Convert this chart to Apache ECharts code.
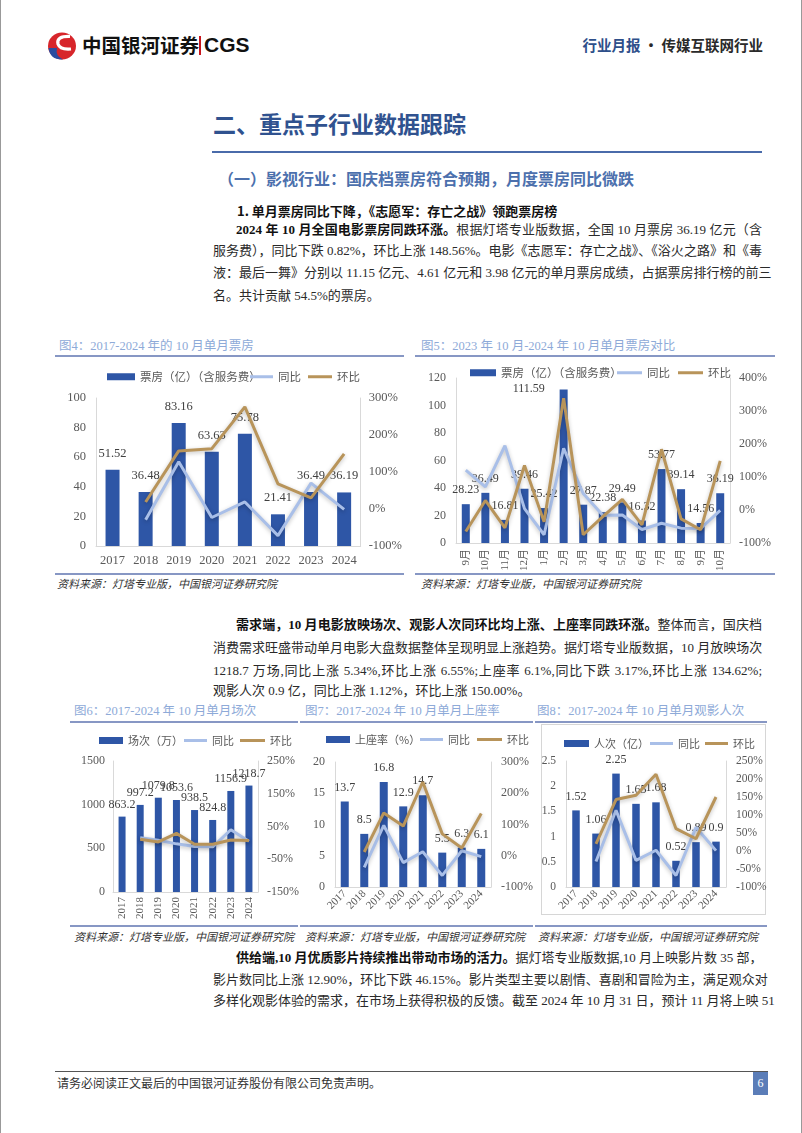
<!DOCTYPE html>
<html><head><meta charset="utf-8">
<script src="https://cdn.jsdelivr.net/npm/echarts@6/dist/echarts.min.js"></script>
<style>
html,body{margin:0;padding:0;background:#fff;}
body{width:802px;height:1133px;position:relative;overflow:hidden;font-family:"Liberation Serif","Noto Sans CJK SC",serif;color:#2a2a2a;}
.abs{position:absolute;white-space:nowrap;}
.line{position:absolute;font-size:13px;height:20px;line-height:20px;text-align:justify;text-align-last:justify;white-space:nowrap;}
.last{text-align-last:left;}
.rule{position:absolute;height:2px;background:#8797c4;}
.ttl{position:absolute;font-size:12.5px;color:#8eaad8;white-space:nowrap;line-height:14px;}
.src{position:absolute;font-size:11px;color:#333;font-style:italic;white-space:nowrap;line-height:13px;}
.chart{position:absolute;}
b{font-weight:700;color:#111;}
</style></head>
<body>
<div style="position:absolute;left:0;top:0;width:800px;height:1133px;border-left:1px solid #999;border-right:1px solid #999;"></div>
<!-- header -->
<svg style="position:absolute;left:46px;top:31px" width="32" height="30" viewBox="0 0 32 30">
 <ellipse cx="16" cy="15" rx="14" ry="13.5" fill="#d7262b"/>
 <path d="M2.5,17 Q4,29 17,28.5 Q9,25 11,17 Z" fill="#2b4da0"/>
 <path d="M24,5.5 Q10,5 12,13 Q14,19 25,18" stroke="#fff" stroke-width="3.2" fill="none"/>
</svg>
<div class="abs" style="left:82px;top:32px;font-family:'Noto Sans CJK SC';font-weight:700;font-size:19.5px;color:#111;line-height:26px;">中国银河证券</div>
<div class="abs" style="left:199px;top:36px;width:2px;height:19px;background:#c8161d;"></div>
<div class="abs" style="left:204px;top:31px;font-family:'Liberation Sans',Arial;font-weight:700;font-size:21px;color:#111;line-height:28px;">CGS</div>
<div class="abs" style="right:39px;top:36px;font-family:'Noto Sans CJK SC';font-weight:700;font-size:14.5px;line-height:18px;"><span style="color:#2e4f8a">行业月报</span> · 传媒互联网行业</div>

<!-- section heading -->
<div class="abs" style="left:213px;top:108px;font-family:'Noto Sans CJK SC';font-weight:700;font-size:23px;color:#30528f;line-height:30px;">二、重点子行业数据跟踪</div>
<div class="abs" style="left:212px;top:151px;width:550px;height:2px;background:#4a6baa;"></div>
<div class="abs" style="left:218px;top:167px;font-family:'Noto Sans CJK SC';font-weight:700;font-size:16px;color:#4c70ad;line-height:22px;">（一）影视行业：国庆档票房符合预期，月度票房同比微跌</div>
<div class="abs" style="left:237px;top:201px;font-family:'Noto Sans CJK SC';font-weight:700;font-size:13px;line-height:20px;color:#111;">1. 单月票房同比下降，《志愿军：存亡之战》领跑票房榜</div>

<div class="line" style="left:236px;top:220px;width:526px;"><b>2024 年 10 月全国电影票房同跌环涨。</b>根据灯塔专业版数据，全国 10 月票房 36.19 亿元（含</div>
<div class="line" style="left:213px;top:241px;width:549px;">服务费），同比下跌 0.82%，环比上涨 148.56%。电影《志愿军：存亡之战》、《浴火之路》和《毒</div>
<div class="line" style="left:213px;top:263px;width:549px;">液：最后一舞》分别以 11.15 亿元、4.61 亿元和 3.98 亿元的单月票房成绩，占据票房排行榜的前三</div>
<div class="line last" style="left:213px;top:286px;width:549px;">名。共计贡献 54.5%的票房。</div>

<!-- chart 4 / 5 frames -->
<div class="ttl" style="left:59px;top:339px;">图4：2017-2024 年的 10 月单月票房</div>
<div class="rule" style="left:55px;top:355px;width:349px;"></div>
<div class="rule" style="left:55px;top:573px;width:349px;"></div>
<div class="src" style="left:57px;top:578px;">资料来源：灯塔专业版，中国银河证券研究院</div>
<div class="ttl" style="left:421px;top:339px;">图5：2023 年 10 月-2024 年 10 月单月票房对比</div>
<div class="rule" style="left:415px;top:355px;width:360px;"></div>
<div class="rule" style="left:415px;top:573px;width:360px;"></div>
<div class="src" style="left:421px;top:578px;">资料来源：灯塔专业版，中国银河证券研究院</div>
<div id="c4" class="chart" style="left:55px;top:360px;width:350px;height:215px;"></div>
<div id="c5" class="chart" style="left:415px;top:360px;width:360px;height:215px;"></div>

<div class="line" style="left:236px;top:615px;width:526px;"><b>需求端，10 月电影放映场次、观影人次同环比均上涨、上座率同跌环涨。</b>整体而言，国庆档</div>
<div class="line" style="left:213px;top:638px;width:549px;">消费需求旺盛带动单月电影大盘数据整体呈现明显上涨趋势。据灯塔专业版数据，10 月放映场次</div>
<div class="line" style="left:213px;top:661px;width:549px;">1218.7 万场,同比上涨 5.34%,环比上涨 6.55%;上座率 6.1%,同比下跌 3.17%,环比上涨 134.62%;</div>
<div class="line last" style="left:213px;top:681px;width:549px;">观影人次 0.9 亿，同比上涨 1.12%，环比上涨 150.00%。</div>

<!-- chart 6/7/8 frames -->
<div class="ttl" style="left:74px;top:704px;">图6：2017-2024 年 10 月单月场次</div>
<div class="ttl" style="left:305px;top:704px;">图7：2017-2024 年 10 月单月上座率</div>
<div class="ttl" style="left:537px;top:704px;">图8：2017-2024 年 10 月单月观影人次</div>
<div class="rule" style="left:70px;top:721px;width:228px;"></div>
<div class="rule" style="left:300px;top:721px;width:233px;"></div>
<div class="rule" style="left:535px;top:721px;width:232px;"></div>
<div style="position:absolute;left:541px;top:724px;width:223px;height:189px;border:1px solid #d6d6d6;"></div>
<div class="rule" style="left:70px;top:925px;width:228px;"></div>
<div class="rule" style="left:300px;top:925px;width:233px;"></div>
<div class="rule" style="left:535px;top:925px;width:232px;"></div>
<div class="src" style="left:74px;top:931px;">资料来源：灯塔专业版，中国银河证券研究院</div>
<div class="src" style="left:305px;top:931px;">资料来源：灯塔专业版，中国银河证券研究院</div>
<div class="src" style="left:538px;top:931px;">资料来源：灯塔专业版，中国银河证券研究院</div>
<div id="c6" class="chart" style="left:70px;top:724px;width:232px;height:205px;"></div>
<div id="c7" class="chart" style="left:300px;top:724px;width:236px;height:205px;"></div>
<div id="c8" class="chart" style="left:535px;top:724px;width:235px;height:205px;"></div>

<div class="line" style="left:236px;top:948px;width:526px;"><b>供给端,10 月优质影片持续推出带动市场的活力。</b>据灯塔专业版数据,10 月上映影片数 35 部，</div>
<div class="line" style="left:213px;top:970px;width:549px;">影片数同比上涨 12.90%，环比下跌 46.15%。影片类型主要以剧情、喜剧和冒险为主，满足观众对</div>
<div class="line" style="left:213px;top:991px;width:549px;">多样化观影体验的需求，在市场上获得积极的反馈。截至 2024 年 10 月 31 日，预计 11 月将上映 51</div>

<!-- footer -->
<div class="abs" style="left:55px;top:1071px;width:713px;height:1px;background:#555;"></div>
<div class="abs" style="left:57px;top:1076px;font-size:12px;color:#333;line-height:16px;">请务必阅读正文最后的中国银河证券股份有限公司免责声明。</div>
<div class="abs" style="left:753px;top:1072px;width:15px;height:23px;background:#5b7db8;color:#fff;font-size:12px;line-height:23px;text-align:center;">6</div>

<script>
// ---------- data ----------
const years = ['2017','2018','2019','2020','2021','2022','2023','2024'];
const months = ['9月','10月','11月','12月','1月','2月','3月','4月','5月','6月','7月','8月','9月','10月'];

const boxOffice = [51.52, 36.48, 83.16, 63.63, 75.78, 21.41, 36.49, 36.19];
const boxOfficeYoY = ['-', -29, 128, -23, 19, -72, 70, -1];
const boxOfficeMoM = ['-', 19, 157, 163, 276, 68, 30, 149];

const monthlyBox = [28.23, 36.49, 16.81, 39.46, 25.42, 111.59, 27.87, 22.38, 29.49, 16.32, 53.77, 39.14, 14.56, 36.19];
const monthlyYoY = [121, 70, 195, 4, -75, 187, 50, -16, -15, -59, -40, -55, -56, -1];
const monthlyMoM = [-65, 29, -54, 135, -36, 339, -75, -20, 32, -45, 184, -27, -60, 149];

const screenings = [863.2, 997.2, 1079.8, 1053.6, 938.5, 824.8, 1156.9, 1218.7];
const screeningsYoY = ['-', 16, 8, -3, -11, -12, 40, 5];
const screeningsMoM = ['-', 11, 3, 29, -4, -4, 9, 7];

const occupancy = [13.7, 8.5, 16.8, 12.9, 14.7, 5.5, 6.3, 6.1];
const occupancyYoY = ['-', -37, 97, -22, 13, -63, 16, -3];
const occupancyMoM = ['-', 12, 137, 95, 236, 70, 25, 135];

const admissions = [1.52, 1.06, 2.25, 1.65, 1.68, 0.52, 0.89, 0.9];
const admissionsYoY = ['-', -29, 113, -26, 2, -68, 66, 1];
const admissionsMoM = ['-', 20, 143, 155, 213, 62, 34, 150];

const leftTicks4 = [0, 100, 20];      // min,max,interval
const rightTicks4 = [-100, 300, 100];
const leftTicks5 = [0, 120, 20];
const rightTicks5 = [-100, 400, 100];
const leftTicks6 = [0, 1500, 500];
const rightTicks6 = [-150, -50, 50, 150, 250];
const leftTicks7 = [0, 20, 5];
const rightTicks7 = [-100, 300, 100];
const leftTicks8 = [0, 2.5, 0.5];
const rightTicks8 = [-100, 250, 50];

// ---------- styling ----------
const FONT = '"Liberation Serif","Noto Sans CJK SC",serif';
const BAR = '#2e56a6', YOY = '#a9bfe8', MOM = '#b8945a';
const AXC = '#595959', LINEC = '#d9d9d9';

function lineSeries(name, data, color) {
  return {
    name, type: 'line', yAxisIndex: 1, data, showSymbol: false, symbol: 'none',
    z: 3, connectNulls: false,
    lineStyle: { color, width: 3, shadowBlur: 4, shadowColor: 'rgba(0,0,0,0.25)', shadowOffsetY: 1.5 },
    itemStyle: { color }
  };
}

function build(c) {
  const lgText = { fontSize: c.lgFont, color: AXC, fontFamily: '"Noto Sans CJK SC",sans-serif' };
  const rightAxis = {
    type: 'value', min: c.right[0], max: c.right[1], splitLine: { show: false },
    axisLine: { show: true, lineStyle: { color: LINEC } }, axisTick: { show: false },
    axisLabel: { formatter: '{value}%', color: AXC, fontSize: c.axFont, fontFamily: FONT, margin: c.rMargin }
  };
  if (c.rightCustom) {
    rightAxis.axisLabel.customValues = c.rightCustom;
    rightAxis.axisTick.customValues = c.rightCustom;
  } else {
    rightAxis.interval = c.right[2];
  }
  const barData = c.bars.map((v, i) => (c.labelLeftIdx === i)
    ? { value: v, label: { position: [-47, -7] } } : v);
  return {
    animation: false,
    textStyle: { fontFamily: FONT },
    grid: { left: c.grid[0], right: c.grid[1], top: c.grid[2], bottom: c.grid[3], containLabel: false },
    legend: [
      { data: [c.barName], left: c.lg[0], top: c.lgTop, padding: 0, icon: 'rect', itemWidth: c.lw[0], itemHeight: 7, textStyle: lgText },
      { data: ['同比'], left: c.lg[1], top: c.lgTop, padding: 0, icon: 'rect', itemWidth: c.lw[1], itemHeight: 3, textStyle: lgText },
      { data: ['环比'], left: c.lg[2], top: c.lgTop, padding: 0, icon: 'rect', itemWidth: c.lw[2], itemHeight: 3, textStyle: lgText }
    ],
    xAxis: {
      type: 'category', data: c.cats, axisTick: { show: false },
      axisLine: { show: true, lineStyle: { color: LINEC } },
      axisLabel: { rotate: c.rotate, color: AXC, fontSize: c.xFont, fontFamily: FONT, margin: c.xMargin, interval: 0 }
    },
    yAxis: [
      { type: 'value', min: c.left[0], max: c.left[1], interval: c.left[2], splitLine: { show: false },
        axisLine: { show: true, lineStyle: { color: LINEC } }, axisTick: { show: false },
        axisLabel: { color: AXC, fontSize: c.axFont, fontFamily: FONT, margin: c.lMargin, formatter: v => String(v) } },
      rightAxis
    ],
    series: [
      { name: c.barName, type: 'bar', data: barData, barWidth: c.barWidth, z: 2,
        itemStyle: { color: BAR },
        label: { show: true, position: 'top', distance: c.lblDist, color: '#404040', fontSize: c.lblFont, fontFamily: FONT } },
      lineSeries('同比', c.yoy, YOY),
      lineSeries('环比', c.mom, MOM)
    ]
  };
}

const charts = [
  ['c4', { cats: years, bars: boxOffice, yoy: boxOfficeYoY, mom: boxOfficeMoM, barName: '票房（亿）（含服务费）',
    left: leftTicks4, right: rightTicks4, grid: [41, 41, 38, 29], lg: [52, 195, 253], lw: [28, 23, 24], lgTop: 11, lgFont: 11.5,
    rotate: 0, xFont: 12.5, axFont: 12.5, xMargin: 8, lMargin: 10, rMargin: 8, barWidth: 14, lblFont: 12.5, lblDist: 10 }],
  ['c5', { cats: months, bars: monthlyBox, yoy: monthlyYoY, mom: monthlyMoM, barName: '票房（亿）（含服务费）',
    left: leftTicks5, right: rightTicks5, grid: [41, 45, 18, 32], lg: [55, 202, 263], lw: [26, 25, 25], lgTop: 7, lgFont: 11.5,
    rotate: 90, xFont: 11, axFont: 12, xMargin: 6, lMargin: 10, rMargin: 9, barWidth: 8, lblFont: 12, lblDist: 8, labelLeftIdx: 5 }],
  ['c6', { cats: years, bars: screenings, yoy: screeningsYoY, mom: screeningsMoM, barName: '场次（万）',
    left: leftTicks6, right: [-150, 250], rightCustom: rightTicks6, grid: [43, 43, 37, 37], lg: [29, 114, 170], lw: [24, 23, 25], lgTop: 11, lgFont: 11,
    rotate: 90, xFont: 11, axFont: 12, xMargin: 5, lMargin: 8, rMargin: 9, barWidth: 7, lblFont: 12, lblDist: 6 }],
  ['c7', { cats: years, bars: occupancy, yoy: occupancyYoY, mom: occupancyMoM, barName: '上座率（%）',
    left: leftTicks7, right: rightTicks7, grid: [35, 43, 38, 42], lg: [26, 120, 177], lw: [24, 23, 25], lgTop: 10, lgFont: 11,
    rotate: 45, xFont: 11, axFont: 12, xMargin: 5, lMargin: 10, rMargin: 10, barWidth: 8, lblFont: 12, lblDist: 8 }],
  ['c8', { cats: years, bars: admissions, yoy: admissionsYoY, mom: admissionsMoM, barName: '人次（亿）',
    left: leftTicks8, right: rightTicks8, grid: [31, 44, 37, 42], lg: [29, 115, 170], lw: [25, 23, 23], lgTop: 14, lgFont: 11,
    rotate: 45, xFont: 11, axFont: 11.5, xMargin: 5, lMargin: 10, rMargin: 10, barWidth: 7.5, lblFont: 12, lblDist: 8 }]
];

charts.forEach(([id, cfg]) => {
  const ch = echarts.init(document.getElementById(id), null, { renderer: 'canvas' });
  ch.setOption(build(cfg));
});
</script>
</body></html>
